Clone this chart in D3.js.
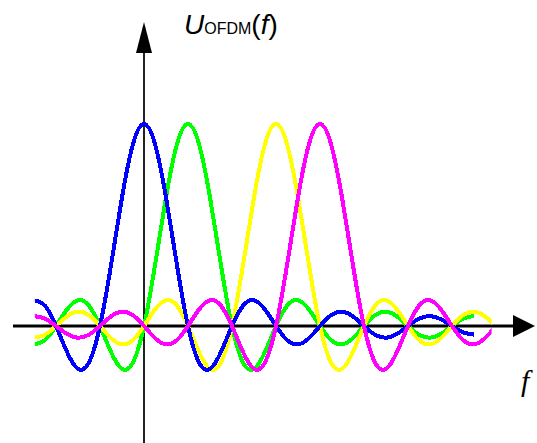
<!DOCTYPE html>
<html>
<head>
<meta charset="utf-8">
<script src="https://cdn.jsdelivr.net/npm/d3@7"></script>
<style>
  html, body { margin: 0; padding: 0; background: #fff; }
  svg { display: block; }
</style>
</head>
<body>
<div id="chart"></div>
<script>
// Sub-carrier positions (in units of carrier spacing) and their colours
const subcarriers = [1, 3, 0, 4];
const colors = ["#00ff00", "#ffff00", "#0000ff", "#ff00ff"];
const endFreq = [7.5, 7.9, 7.5, 7.9];   // where each trace stops
const startFreq = -2.48;

// spectrum shape of one carrier, read at offsets -6.5 .. 7.5 step 0.25
const pulseOffsets = d3.range(-6.5, 7.51, 0.25);
const pulseValues = [
  0.0490, 0.0360, 0, -0.0391, -0.0579, -0.0429, 0, 0.0474, 0.0707, 0.0530,
  0, -0.0600, -0.0909, -0.0693, 0, 0.0818, 0.1273, 0.1000, 0, -0.1286,
  -0.2122, -0.1801, 0, 0.3001, 0.6366, 0.9003, 1,
  0.9003, 0.6366, 0.3001, 0, -0.1801, -0.2122, -0.1286, 0, 0.1000,
  0.1273, 0.0818, 0, -0.0693, -0.0909, -0.0600, 0, 0.0530, 0.0707, 0.0474,
  0, -0.0429, -0.0579, -0.0391, 0, 0.0360, 0.0490, 0.0333, 0, -0.0310, -0.0424
];

const width = 537;
const height = 443;

const svg = d3.select("#chart")
  .append("svg")
  .attr("width", width)
  .attr("height", height);

const x = d3.scaleLinear().domain([0, 1]).range([144, 188]);
const y = d3.scaleLinear().domain([0, 1]).range([326, 124]);

// axes
const axisY = y(0);
const axisX = x(0);

svg.append("line")
  .attr("x1", 13).attr("x2", 516)
  .attr("y1", axisY).attr("y2", axisY)
  .style("stroke", "#000")
  .style("stroke-width", 3);

svg.append("path")
  .attr("d", `M535,${axisY} L513,${axisY - 11} L513,${axisY + 11} Z`)
  .style("fill", "#000");

svg.append("line")
  .attr("x1", axisX).attr("x2", axisX)
  .attr("y1", height).attr("y2", 50)
  .style("stroke", "#222")
  .style("stroke-width", 2);

svg.append("path")
  .attr("d", `M${axisX},22 L${axisX - 8},53 L${axisX + 8},53 Z`)
  .style("fill", "#000");

// clip so traces start at the same place on the left
svg.append("clipPath")
  .attr("id", "clip")
  .append("rect")
  .attr("x", x(startFreq)).attr("y", 0)
  .attr("width", x(7.9) - x(startFreq)).attr("height", height);

const line = d3.line()
  .x(d => x(d.f))
  .y(d => y(d.v))
  .curve(d3.curveNatural);

subcarriers.forEach((k, i) => {
  const pts = pulseOffsets
    .map((o, j) => ({ f: k + o, v: pulseValues[j] }))
    .filter(d => d.f >= -2.5 - 1e-6 && d.f <= endFreq[i] + 0.1);
  svg.append("path")
    .datum(pts)
    .attr("clip-path", "url(#clip)")
    .attr("d", line)
    .style("fill", "none")
    .style("stroke", colors[i])
    .style("stroke-width", 4)
    .style("shape-rendering", "crispEdges");
});

// labels
const title = svg.append("text")
  .attr("x", 184)
  .attr("y", 34)
  .style("font-family", "'Liberation Sans', Arial, sans-serif")
  .style("font-size", "28px")
  .style("fill", "#000");
title.append("tspan").style("font-style", "italic").text("U");
title.append("tspan").style("font-size", "16px").text("OFDM");
title.append("tspan").text("(");
title.append("tspan").style("font-style", "italic").text("f");
title.append("tspan").text(")");

svg.append("text")
  .attr("x", 521)
  .attr("y", 391)
  .style("font-family", "'Liberation Serif', 'Times New Roman', serif")
  .style("font-style", "italic")
  .style("font-size", "30px")
  .style("fill", "#000")
  .text("f");
</script>
</body>
</html>
